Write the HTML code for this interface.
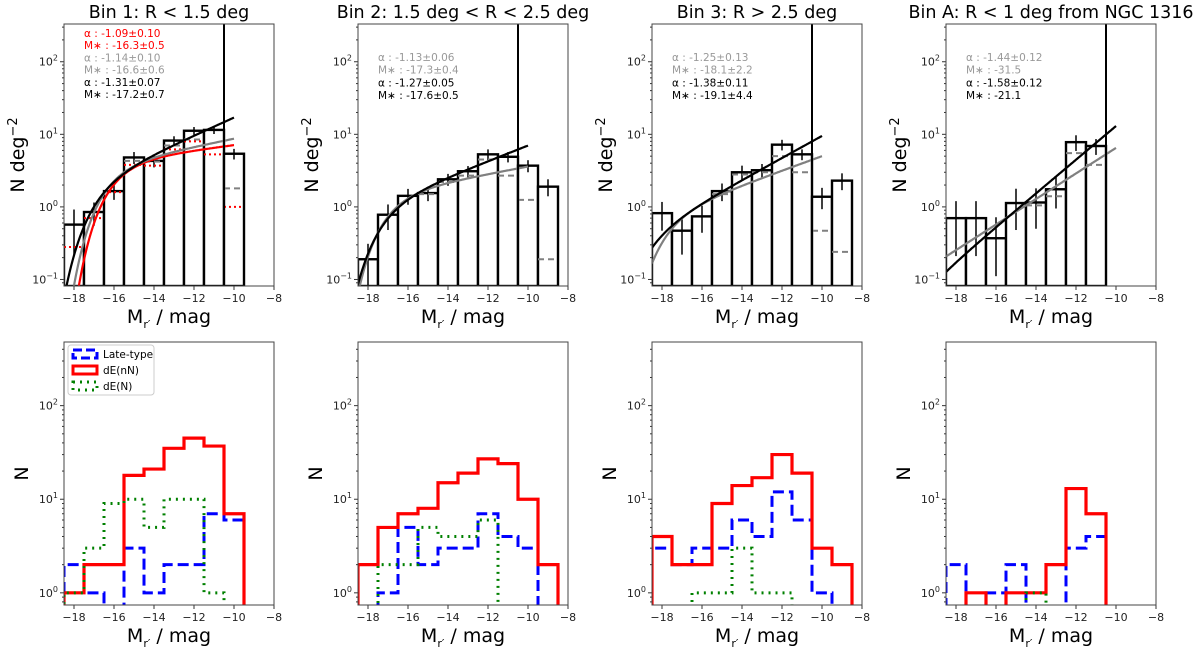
<!DOCTYPE html>
<html><head><meta charset="utf-8"><style>
body{margin:0;background:#fff;}
svg text{font-family:"DejaVu Sans","Liberation Sans",sans-serif;}
</style></head><body>
<svg id="fig" width="1200" height="647" viewBox="0 0 1200 647" xmlns="http://www.w3.org/2000/svg"></svg>
<script>
// ---- data ----
const binCenters = [-18,-17,-16,-15,-14,-13,-12,-11,-10,-9];
const titles = ["Bin 1: R < 1.5 deg","Bin 2: 1.5 deg < R < 2.5 deg","Bin 3: R > 2.5 deg","Bin A: R < 1 deg from NGC 1316"];
const density1 = [0.57,0.85,1.65,4.8,4.3,8.2,11.2,11.5,5.4,null];
const density2 = [0.19,0.78,1.42,1.55,2.4,3.1,5.3,4.9,3.7,1.9];
const density3 = [0.82,0.47,0.74,1.65,3.0,3.2,7.2,5.3,1.38,2.3];
const density4 = [0.7,0.7,0.37,1.13,1.15,1.75,7.8,6.9,null,null];
const densErr1 = [0.35,0.3,0.4,0.9,0.8,1.2,1.4,1.4,0.9,null];
const densErr2 = [0.12,0.3,0.35,0.35,0.45,0.55,0.9,0.8,0.7,0.5];
const densErr3 = [0.35,0.25,0.3,0.45,0.7,0.7,1.2,0.9,0.45,0.6];
const densErr4 = [0.5,0.5,0.35,0.65,0.65,0.8,1.9,1.7,null,null];
const grayDash1 = [null,null,null,4.3,4.2,7.0,8.5,null,1.8,null];
const grayDash2 = [null,null,null,1.5,2.2,2.7,4.5,2.7,1.25,0.19];
const grayDash3 = [null,null,null,1.5,2.8,3.0,5.0,3.0,0.47,0.24];
const grayDash4 = [null,null,null,null,1.05,1.4,5.5,3.8,null,null];
const redDot1 = [0.28,0.7,1.6,3.8,3.7,6.2,8.0,5.3,1.0,null];
const fitBlackAlpha = [-1.31,-1.27,-1.38,-1.58];
const fitBlackMstar = [-17.2,-17.6,-19.1,-21.1];
const fitBlackNorm = [17,7.0,9.5,13];
const fitGrayAlpha = [-1.14,-1.13,-1.25,-1.44];
const fitGrayMstar = [-16.6,-17.3,-18.1,-31.5];
const fitGrayNorm = [8.7,3.6,5.0,6.5];
const fitRedAlpha = -1.09, fitRedMstar = -16.3, fitRedNorm = 7.1;
const annotLines = [
 [["α : -1.09±0.10","red"],["M∗ : -16.3±0.5","red"],["α : -1.14±0.10","#999"],["M∗ : -16.6±0.6","#999"],["α : -1.31±0.07","black"],["M∗ : -17.2±0.7","black"]],
 [["α : -1.13±0.06","#999"],["M∗ : -17.3±0.4","#999"],["α : -1.27±0.05","black"],["M∗ : -17.6±0.5","black"]],
 [["α : -1.25±0.13","#999"],["M∗ : -18.1±2.2","#999"],["α : -1.38±0.11","black"],["M∗ : -19.1±4.4","black"]],
 [["α : -1.44±0.12","#999"],["M∗ : -31.5","#999"],["α : -1.58±0.12","black"],["M∗ : -21.1","black"]]
];
const lateType1 = [2,1,0,3,1,2,2,7,6,0];
const dEnN1 = [1,2,2,18,21,35,45,37,7,0];
const dEN1 = [1,3,9,10,5,10,10,1,0,0];
const lateType2 = [0,1,5,2,3,3,7,4,3,0];
const dEnN2 = [2,5,7,8,15,19,27,24,10,2];
const dEN2 = [0,2,2,5,4,4,6,0,0,0];
const lateType3 = [3,2,3,3,6,4,12,6,1,0];
const dEnN3 = [4,2,2,9,14,17,30,19,3,2];
const dEN3 = [0,0,1,1,3,1,1,0,0,0];
const lateType4 = [2,0,1,2,0,0,3,4,0,0];
const dEnN4 = [0,1,0,1,1,2,13,7,0,0];
const dEN4 = [0,0,0,0,1,0,0,0,0,0];
const densities=[density1,density2,density3,density4], densErrs=[densErr1,densErr2,densErr3,densErr4];
const grays=[grayDash1,grayDash2,grayDash3,grayDash4];
const lates=[lateType1,lateType2,lateType3,lateType4], nNs=[dEnN1,dEnN2,dEnN3,dEnN4], Ns=[dEN1,dEN2,dEN3,dEN4];

const NS="http://www.w3.org/2000/svg", fig=document.getElementById('fig');
function el(tag,attrs,parent,txt){const e=document.createElementNS(NS,tag);for(const k in attrs)e.setAttribute(k,attrs[k]);if(txt!==undefined)e.textContent=txt;(parent||fig).appendChild(e);return e;}
const lefts=[64,358,652,946], W=210;
const xmin=-18.5,xmax=-8;
function xs(i,m){return lefts[i]+(m-xmin)/(xmax-xmin)*W;}
const T={top:24,bot:286,lmax:2.52,lmin:-1.09}, B={top:342,bot:605,lmax:2.68,lmin:-0.13};
function ys(ax,v){if(v<=0)return ax.bot+20;const l=Math.log10(v);return ax.top+(ax.lmax-l)/(ax.lmax-ax.lmin)*(ax.bot-ax.top);}
function schech(a,ms,norm,m){const f=x=>Math.pow(10,0.4*(a+1)*(ms-x))*Math.exp(-Math.pow(10,0.4*(ms-x)));return norm*f(m)/f(-10);}

function axesFrame(i,ax,row){
  const g=el('g',{});
  
  
  const cid=`clip-${row}-${i}`;
  const cp=el('clipPath',{id:cid},g);el('rect',{x:lefts[i],y:ax.top,width:W,height:ax.bot-ax.top},cp);
  for(let m=-18;m<=-8;m+=2){const x=xs(i,m);
    el('line',{x1:x,x2:x,y1:ax.bot,y2:ax.bot+4,stroke:'#333','stroke-width':1},g);
    const t=el('text',{x:x,y:ax.bot+16,'font-size':11,'text-anchor':'middle',fill:'#222'},g,'−'+(-m));
    }
  for(let d=Math.floor(ax.lmin);d<=Math.ceil(ax.lmax);d++){
    for(let k=1;k<10;k++){const l=d+Math.log10(k);if(l<ax.lmin||l>ax.lmax)continue;const y=ys(ax,Math.pow(10,l));
      el('line',{x1:lefts[i]-(k==1?4:2),x2:lefts[i],y1:y,y2:y,stroke:'#333','stroke-width':1},g);
      if(k==1){const t=el('text',{x:lefts[i]-6,y:y+4,'font-size':11,'text-anchor':'end',fill:'#222'},g);
        
        el('tspan',{},t,'10');el('tspan',{dy:-5,'font-size':8},t,d<0?'−'+(-d):String(d));}}}
  const xl=el('text',{x:lefts[i]+W/2,y:ax.bot+37,'font-size':19,'text-anchor':'middle',fill:'#000'},g);
  
  el('tspan',{},xl,'M');el('tspan',{'font-size':11,dy:5},xl,'r′');el('tspan',{dy:-5},xl,' / mag');
  return {g,clip:`url(#${cid})`};
}
function border(g,i,ax){el('rect',{x:lefts[i],y:ax.top,width:W,height:ax.bot-ax.top,fill:'none',stroke:'#444','stroke-width':1},g);}
function segLine(g,i,ax,vals,clip,attrs,name){
  vals.forEach((v,k)=>{if(v==null)return;const c=binCenters[k],y=ys(ax,v);
    const l=el('line',Object.assign({x1:xs(i,c-0.5),x2:xs(i,c+0.5),y1:y,y2:y,'clip-path':clip},attrs),g);
    });
}
function curve(g,i,ax,a,ms,norm,color,clip,name){
  let d='';for(let m=-18.5;m<=-10.001+0.05;m+=0.05){const mm=Math.min(m,-10);d+=(d?'L':'M')+xs(i,mm).toFixed(1)+','+ys(ax,schech(a,ms,norm,mm)).toFixed(1);}
  const p=el('path',{d:d,fill:'none',stroke:color,'stroke-width':2.2,'clip-path':clip},g);
  
}
function stepHist(g,i,ax,vals,attrs,clip,name){
  let last=0;for(let k=vals.length-1;k>=0;k--)if(vals[k]>0){last=k;break;}
  let d='M'+xs(i,binCenters[0]-0.5)+','+ys(ax,0);
  for(let k=0;k<=last;k++){const y=ys(ax,vals[k]);d+='L'+xs(i,binCenters[k]-0.5)+','+y+'L'+xs(i,binCenters[k]+0.5)+','+y;}
  d+='L'+xs(i,binCenters[last]+0.5)+','+ys(ax,0);
  const p=el('path',Object.assign({d:d,fill:'none','clip-path':clip},attrs),g);
  
}

for(let i=0;i<4;i++){
  const {g,clip}=axesFrame(i,T,'top');
  const tt=el('text',{x:lefts[i]+W/2,y:18,'font-size':17.5,'text-anchor':'middle',fill:'#000'},g,titles[i]);
  
  const yl=el('text',{x:0,y:0,'font-size':19,'text-anchor':'middle',transform:`translate(${lefts[i]-40},${(T.top+T.bot)/2}) rotate(-90)`},g);
  
  el('tspan',{},yl,'N deg');el('tspan',{dy:-7,'font-size':13},yl,'−2');
  densities[i].forEach((v,k)=>{if(v==null)return;const c=binCenters[k],y=ys(T,v);
    const r=el('rect',{x:xs(i,c-0.5),y:y,width:xs(i,c+0.5)-xs(i,c-0.5),height:T.bot-y,fill:'#fff',stroke:'#000','stroke-width':2.4,'clip-path':clip},g);
    });
  densities[i].forEach((v,k)=>{if(v==null)return;const c=binCenters[k],e=densErrs[i][k];
    const l=el('line',{x1:xs(i,c),x2:xs(i,c),y1:ys(T,v+e),y2:ys(T,Math.max(v-e,v*0.3)),stroke:'#000','stroke-width':1.5,'clip-path':clip},g);
    });
  segLine(g,i,T,grays[i],clip,{stroke:'#808080','stroke-width':2,'stroke-dasharray':'6,4'},'gray-dashed-hist');
  if(i==0)segLine(g,i,T,redDot1,clip,{stroke:'red','stroke-width':2,'stroke-dasharray':'2,3'},'red-dotted-hist');
  if(i==0)curve(g,i,T,fitRedAlpha,fitRedMstar,fitRedNorm,'red',clip,'red-schechter-fit');
  curve(g,i,T,fitGrayAlpha[i],fitGrayMstar[i],fitGrayNorm[i],'#808080',clip,'gray-schechter-fit');
  curve(g,i,T,fitBlackAlpha[i],fitBlackMstar[i],fitBlackNorm[i],'#000',clip,'black-schechter-fit');
  const vl=el('line',{x1:xs(i,-10.5),x2:xs(i,-10.5),y1:T.top,y2:T.bot,stroke:'#000','stroke-width':2},g);
  
  const lines=annotLines[i];const y0=i==0?37:61;
  lines.forEach((ln,k)=>{const yy=i==0?y0+k*12.2:y0+k*12.7;
    const t=el('text',{x:lefts[i]+20,y:yy,'font-size':10.5,fill:ln[1]},g,ln[0]);
    });
  border(g,i,T);

  const b=axesFrame(i,B,'bottom');
  const yl2=el('text',{x:0,y:0,'font-size':19,'text-anchor':'middle',transform:`translate(${lefts[i]-36},${(B.top+B.bot)/2}) rotate(-90)`},b.g,'N');
  
  stepHist(b.g,i,B,lates[i],{stroke:'blue','stroke-width':3,'stroke-dasharray':'11,5'},b.clip,'late-type-hist');
  stepHist(b.g,i,B,nNs[i],{stroke:'red','stroke-width':3.2},b.clip,'dE-nN-hist');
  stepHist(b.g,i,B,Ns[i],{stroke:'green','stroke-width':3,'stroke-dasharray':'2,5'},b.clip,'dE-N-hist');
  border(b.g,i,B);
}
const lg=el('g',{});

el('rect',{x:68,y:345,width:86,height:50,rx:3,fill:'#fff',stroke:'#ccc'},lg);
const leg=[['Late-type',{stroke:'blue','stroke-width':3,'stroke-dasharray':'9,4'}],['dE(nN)',{stroke:'red','stroke-width':3}],['dE(N)',{stroke:'green','stroke-width':3,'stroke-dasharray':'2,5'}]];
leg.forEach((e,k)=>{const y=354+k*16;
  const ge=el('g',{},lg);
  el('rect',Object.assign({x:73,y:y-4,width:24,height:8,fill:'none'},e[1]),ge);
  el('text',{x:103,y:y+4,'font-size':10.5,fill:'#000'},ge,e[0]);});
</script>
</body></html>
